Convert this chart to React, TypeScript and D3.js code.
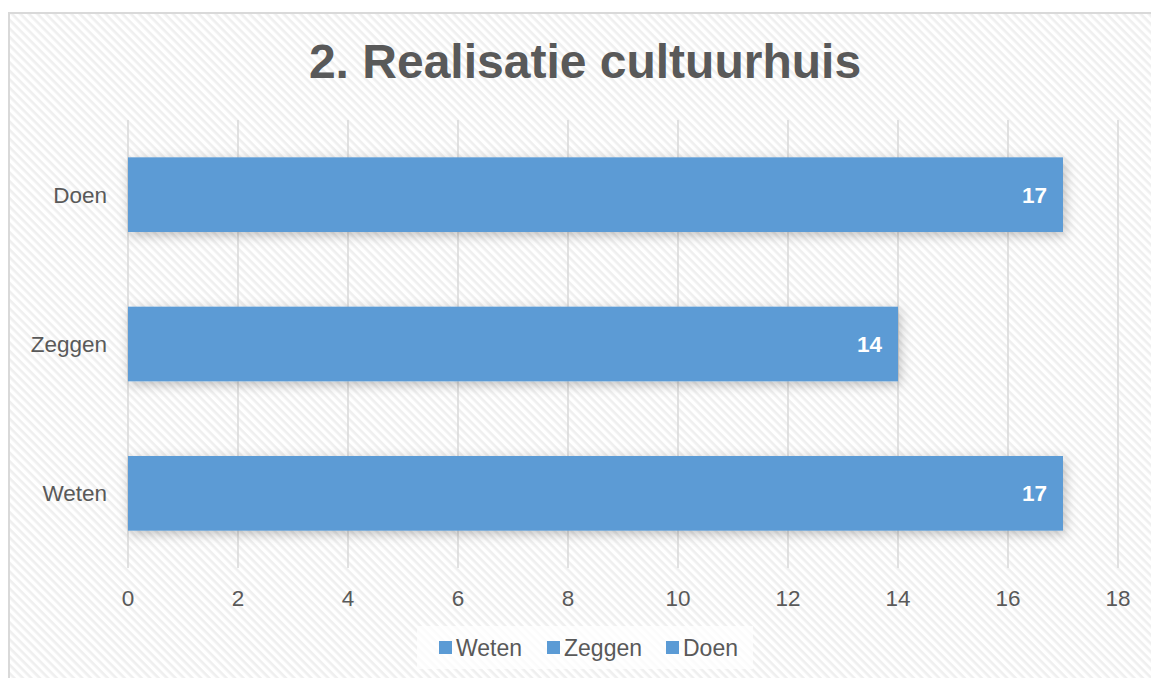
import * as d3 from "d3";

const categories = ["Weten", "Zeggen", "Doen"];
const values = [17, 14, 17];
const xTicks = [0, 2, 4, 6, 8, 10, 12, 14, 16, 18];
const title = "2. Realisatie cultuurhuis";

const W = 1151;
const H = 678;
const FONT = "'Liberation Sans', Arial, sans-serif";
const BLUE = "#5b9bd5";

export default function App() {
  const plot = { left: 128, right: 1118, top: 120, bottom: 568 };

  const x = d3.scaleLinear().domain([0, 18]).range([plot.left, plot.right]);
  // top to bottom: Doen, Zeggen, Weten
  const y = d3
    .scaleBand<string>()
    .domain([...categories].reverse())
    .range([plot.top, plot.bottom])
    .paddingInner(0.5)
    .paddingOuter(0.25);

  const legendItems = [
    { label: "Weten", x: 439 },
    { label: "Zeggen", x: 547 },
    { label: "Doen", x: 666 },
  ];

  return (
    <svg
      width={W}
      height={H}
      style={{ position: "absolute", left: 0, top: 0, display: "block" }}
      fontFamily={FONT}
    >
      <defs>
        <pattern
          id="hatch"
          width="6"
          height="6"
          patternUnits="userSpaceOnUse"
          patternTransform="rotate(45)"
        >
          <rect width="6" height="6" fill="#ffffff" />
          <rect width="6" height="2.6" fill="#efefef" />
        </pattern>
        <filter id="shadow" x="-10%" y="-40%" width="120%" height="180%">
          <feDropShadow dx="2" dy="3" stdDeviation="6" floodColor="#000" floodOpacity="0.25" />
        </filter>
      </defs>

      <rect x={0} y={0} width={W} height={H} fill="#ffffff" />
      <rect x={9} y={13} width={W + 10} height={H + 10} fill="url(#hatch)" stroke="#d9d9d9" strokeWidth={2} />

      <text
        x={585}
        y={78}
        textAnchor="middle"
        fontSize={48}
        fontWeight="bold"
        fill="#595959"
      >
        {title}
      </text>

      {xTicks.map((t) => (
        <g key={t}>
          <line x1={x(t)} x2={x(t)} y1={plot.top} y2={plot.bottom} stroke="#d9d9d9" strokeWidth={1.5} />
          <text x={x(t)} y={606} textAnchor="middle" fontSize={22.5} fill="#595959">
            {t}
          </text>
        </g>
      ))}

      {categories.map((c, i) => {
        const yy = y(c)!;
        const bw = y.bandwidth();
        return (
          <g key={c}>
            <rect
              x={x(0)}
              y={yy}
              width={x(values[i]) - x(0)}
              height={bw}
              fill={BLUE}
              filter="url(#shadow)"
            />
            <text
              x={x(values[i]) - 16}
              y={yy + bw / 2 + 8}
              textAnchor="end"
              fontSize={22.5}
              fontWeight="bold"
              fill="#ffffff"
            >
              {values[i]}
            </text>
            <text x={107} y={yy + bw / 2 + 8} textAnchor="end" fontSize={22.5} fill="#595959">
              {c}
            </text>
          </g>
        );
      })}

      <rect x={417} y={626} width={336} height={43} fill="#ffffff" fillOpacity={0.75} />
      {legendItems.map((l) => (
        <g key={l.label}>
          <rect x={l.x} y={641} width={13} height={13} fill={BLUE} />
          <text x={l.x + 17} y={656} fontSize={23} fill="#595959">
            {l.label}
          </text>
        </g>
      ))}
    </svg>
  );
}
